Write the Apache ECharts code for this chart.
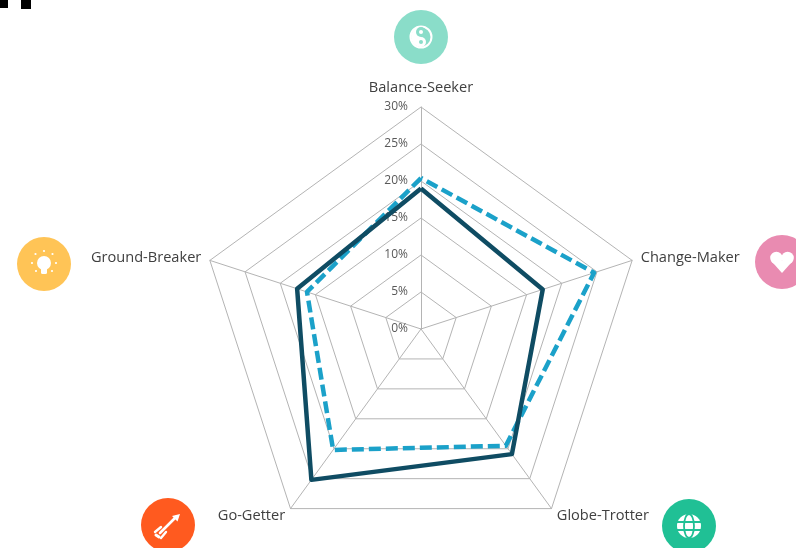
<!DOCTYPE html>
<html>
<head>
<meta charset="utf-8">
<style>
  html, body { margin: 0; padding: 0; background: #fff; }
  #chart { width: 796px; height: 548px; }
</style>
<script src="https://cdn.jsdelivr.net/npm/echarts@6/dist/echarts.min.js"></script>
</head>
<body>
<div id="chart"></div>
<script>
// radar runs counter-clockwise from the top
var categories = ['Balance-Seeker', 'Ground-Breaker', 'Go-Getter', 'Globe-Trotter', 'Change-Maker'];
var darkValues = [19, 17.6, 25.2, 20.9, 17.3];
var blueValues = [20.4, 16.2, 20.2, 19.5, 24.6];
var axisMax = 30;

var textColor = '#404040';
var teal = '#8ADDC9';
var green = '#20C095';

// first axis carries the % tick labels
var indicators = categories.map(function (name, i) {
  return { name: name, min: 0, max: axisMax, axisLabel: { show: i === 0 } };
});

// round badge with a white glyph inside, children are relative to the badge centre
function badge(x, y, color, glyph) {
  return {
    type: 'group',
    x: x,
    y: y,
    silent: true,
    children: [{ type: 'circle', shape: { cx: 0, cy: 0, r: 27 }, style: { fill: color } }].concat(glyph)
  };
}
function dot(x, y, r, fill) {
  return { type: 'circle', shape: { cx: x, cy: y, r: r }, style: { fill: fill || '#fff' } };
}
function seg(x1, y1, x2, y2, w, color) {
  return { type: 'line', shape: { x1: x1, y1: y1, x2: x2, y2: y2 }, style: { stroke: color || '#fff', lineWidth: w, lineCap: 'round' } };
}

var yinyang = [
  { type: 'circle', shape: { cx: 0, cy: 0, r: 10.5 }, style: { fill: 'none', stroke: '#fff', lineWidth: 2 } },
  { type: 'sector', shape: { cx: 0, cy: 0, r: 10, r0: 0, startAngle: Math.PI / 2, endAngle: Math.PI * 1.5 }, style: { fill: '#fff' } },
  dot(0, 5, 5),
  dot(0, -5, 5, teal),
  dot(0, -5, 2),
  dot(0, 5, 2, teal)
];

var bulb = [
  dot(0, -1, 7),
  { type: 'rect', shape: { x: -3, y: 3, width: 6, height: 7, r: 1.5 }, style: { fill: '#fff' } },
  dot(0, -13, 1.1), dot(-8.5, -10, 1.1), dot(8.5, -10, 1.1),
  dot(-12, -1, 1.1), dot(12, -1, 1.1), dot(-8, 7, 1.1), dot(8, 7, 1.1)
];

var heart = [dot(-5.6, -4, 6.2), dot(5.6, -4, 6.2), {
  type: 'polygon', shape: { points: [[-11.2, -1.5], [11.2, -1.5], [0, 11]] }, style: { fill: '#fff' }
}];

var arrow = [
  seg(-8, 8, 8, -8, 2.6),
  { type: 'polygon', shape: { points: [[12, -11], [9.5, -3.5], [4, -9]] }, style: { fill: '#fff' } },
  seg(-13, 7, -7, 2, 2.4),
  seg(-7, 13, -2, 7, 2.4),
  seg(-12, 10, -9, 12, 3)
];

var globe = [
  dot(0, 0, 12),
  { type: 'ellipse', shape: { cx: 0, cy: 0, rx: 5, ry: 12 }, style: { fill: 'none', stroke: green, lineWidth: 1.8 } },
  seg(-12, -4, 12, -4, 1.8, green),
  seg(-12, 4, 12, 4, 1.8, green)
];

var graphics = [
  // scan artefacts in the top left corner of the source image
  { type: 'rect', silent: true, shape: { x: 0, y: 0, width: 8, height: 8 }, style: { fill: '#000' } },
  { type: 'rect', silent: true, shape: { x: 21, y: 0, width: 10, height: 9 }, style: { fill: '#000' } },
  badge(421, 37, teal, yinyang),
  badge(44, 264, '#FFC456', bulb),
  badge(782, 262, '#E98BB1', heart),
  badge(168, 525, '#FF5A1F', arrow),
  badge(689, 526, green, globe)
];

var chart = echarts.init(document.getElementById('chart'), null, { renderer: 'canvas' });
chart.setOption({
  animation: false,
  backgroundColor: '#fff',
  textStyle: { fontFamily: '"Open Sans", sans-serif' },
  radar: {
    center: [421, 329],
    radius: 222,
    startAngle: 90,
    splitNumber: 6,
    shape: 'polygon',
    indicator: indicators,
    axisName: {
      color: textColor,
      fontSize: 14.6,
      fontFamily: '"Open Sans", sans-serif',
      // top label sits a little higher than the others
      formatter: function (name) {
        return name === categories[0] ? '{top|' + name + '}' : name;
      },
      rich: { top: { padding: [0, 0, 3, 0], fontSize: 14.6, color: textColor, fontFamily: '"Open Sans", sans-serif' } }
    },
    nameGap: 9,
    axisLine: { show: true, lineStyle: { color: '#b4b4b4', width: 1 } },
    splitLine: { show: true, lineStyle: { color: '#b4b4b4', width: 1 } },
    splitArea: { show: false },
    axisTick: { show: false },
    axisLabel: {
      formatter: '{value}%',
      color: '#595959',
      fontSize: 12,
      fontFamily: '"Open Sans", sans-serif',
      margin: 13,
      padding: [5, 0, 0, 0]
    }
  },
  series: [{
    type: 'radar',
    symbol: 'none',
    data: [
      { value: blueValues, name: 'Series 2', lineStyle: { color: '#1BA1C9', width: 4.5, type: [12, 5] } },
      { value: darkValues, name: 'Series 1', lineStyle: { color: '#0F4C63', width: 4.5 } }
    ]
  }],
  graphic: graphics
});
</script>
</body>
</html>
